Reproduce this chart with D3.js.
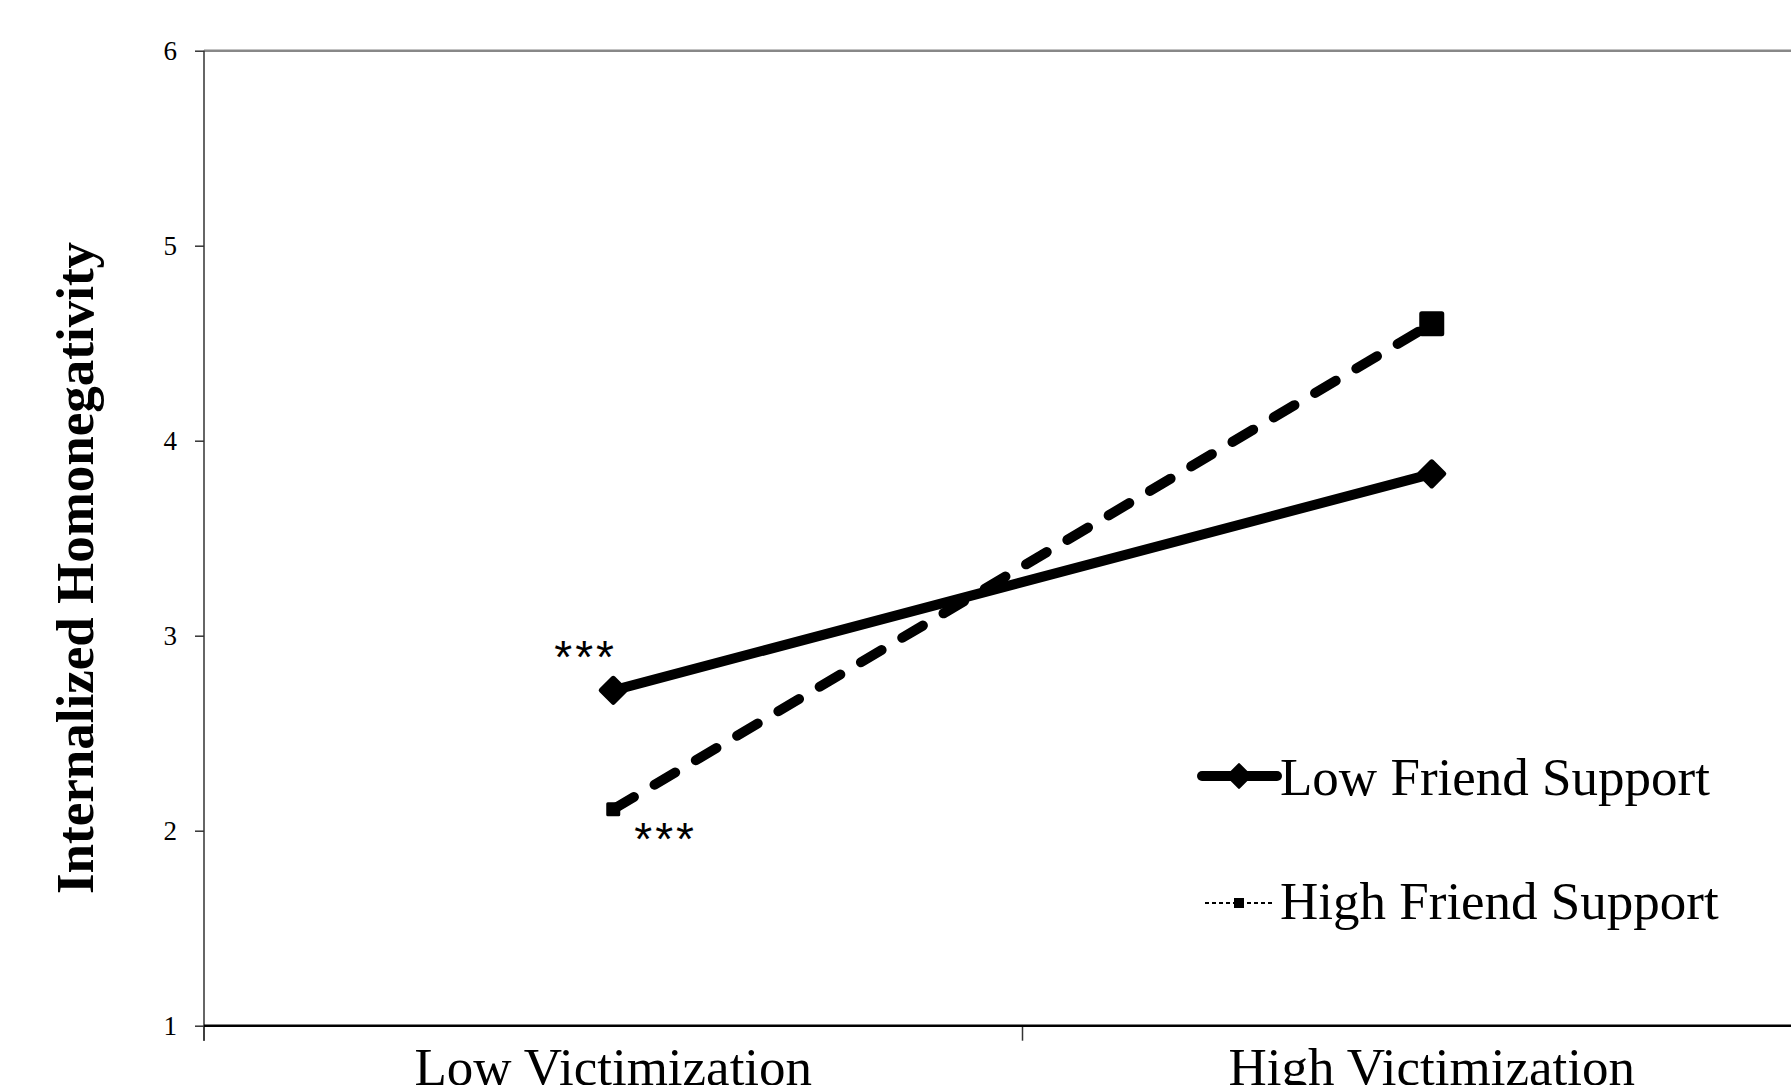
<!DOCTYPE html>
<html lang="en">

<head>
    <meta charset="UTF-8">
    <title>Internalized Homonegativity</title>
    <script src="https://cdnjs.cloudflare.com/ajax/libs/d3/7.8.5/d3.min.js"></script>
    <style>
        body {
            margin: 0;
            background-color: white;
        }

        svg {
            display: block;
            overflow: hidden;
            font-family: "Liberation Serif", "Times New Roman", serif;
        }

        .y-axis text {
            font-family: "Liberation Serif", "Times New Roman", serif;
            font-size: 27px;
            fill: #000;
        }

        .x-axis text {
            font-family: "Liberation Serif", "Times New Roman", serif;
            font-size: 53px;
            fill: #000;
        }

        .legend text {
            font-size: 53px;
        }

        .stars {
            font-family: "Liberation Sans", Arial, sans-serif;
            font-size: 46px;
            letter-spacing: 3px;
        }
    </style>
</head>

<body>
    <svg id="chart"></svg>

    <script>
        const categories = ["Low Victimization", "High Victimization"];
        const lowSupport = [2.72, 3.83];
        const highSupport = [2.11, 4.60];
        const seriesNames = ["Low Friend Support", "High Friend Support"];
        const yTicks = [1, 2, 3, 4, 5, 6];

        const width = 1791;
        const height = 1085;
        const plotLeft = 204;
        const plotTop = 50.7;
        const plotBottom = 1025.7;

        let svg = d3.select("#chart")
            .attr("width", width)
            .attr("height", height);

        let x = d3.scaleBand()
            .domain(categories)
            .range([plotLeft, plotLeft + 2 * 818.5]);

        let y = d3.scaleLinear()
            .domain([1, 6])
            .range([plotBottom, plotTop]);

        // plot frame top line
        svg.append("line")
            .attr("x1", plotLeft).attr("x2", width + 10)
            .attr("y1", y(6)).attr("y2", y(6))
            .style("stroke", "#888")
            .style("stroke-width", 2.5);

        // y axis
        let yAxis = svg.append("g")
            .attr("class", "y-axis")
            .attr("transform", "translate(" + plotLeft + ",0)")
            .call(d3.axisLeft(y).tickValues(yTicks).tickSize(9).tickPadding(18).tickFormat(d3.format("d")));
        yAxis.select(".domain").remove();
        yAxis.selectAll(".tick line").style("stroke", "#333").style("stroke-width", 1.5);
        yAxis.selectAll(".tick text").attr("dy", "0.34em");

        svg.append("line")
            .attr("x1", plotLeft).attr("x2", plotLeft)
            .attr("y1", y(6)).attr("y2", plotBottom + 15)
            .style("stroke", "#333")
            .style("stroke-width", 1.5);

        // x axis
        let xAxis = svg.append("g")
            .attr("class", "x-axis")
            .attr("transform", "translate(0," + plotBottom + ")")
            .call(d3.axisBottom(x).tickSize(0).tickPadding(22));
        xAxis.select(".domain").remove();
        xAxis.selectAll(".tick text").attr("dy", "0.71em");

        let bounds = categories.map(d => x(d)).concat([x.range()[1]]);
        svg.selectAll(".x-tick")
            .data(bounds)
            .join("line")
            .attr("class", "x-tick")
            .attr("x1", d => d).attr("x2", d => d)
            .attr("y1", plotBottom).attr("y2", plotBottom + 15)
            .style("stroke", "#333")
            .style("stroke-width", 1.5);

        svg.append("line")
            .attr("x1", plotLeft).attr("x2", width + 10)
            .attr("y1", plotBottom).attr("y2", plotBottom)
            .style("stroke", "#000")
            .style("stroke-width", 2.5);

        // y axis title
        svg.append("text")
            .attr("transform", "translate(93,568) rotate(-90)")
            .attr("text-anchor", "middle")
            .style("font-size", "53px")
            .style("font-weight", "bold")
            .text("Internalized Homonegativity");

        let cx = d => x(d) + x.bandwidth() / 2;
        let line = d3.line()
            .x((d, i) => cx(categories[i]))
            .y(d => y(d));

        // low friend support: solid with diamonds
        svg.append("path")
            .datum(lowSupport)
            .attr("d", line)
            .style("fill", "none")
            .style("stroke", "#000")
            .style("stroke-width", 10)
            .style("stroke-linecap", "round");

        svg.selectAll(".diamond")
            .data(lowSupport)
            .join("path")
            .attr("class", "diamond")
            .attr("d", d3.symbol(d3.symbolSquare, 289))
            .attr("transform", (d, i) => "translate(" + cx(categories[i]) + "," + y(d) + ") rotate(45)")
            .style("fill", "#000")
            .style("stroke", "#000")
            .style("stroke-width", 5)
            .style("stroke-linejoin", "round");

        // high friend support: dashed with squares
        svg.append("path")
            .datum(highSupport)
            .attr("d", line)
            .style("fill", "none")
            .style("stroke", "#000")
            .style("stroke-width", 10)
            .style("stroke-dasharray", "24,24")
            .style("stroke-linecap", "round");

        svg.selectAll(".square")
            .data(highSupport)
            .join("path")
            .attr("class", "square")
            .attr("d", (d, i) => d3.symbol(d3.symbolSquare, i === 0 ? 121 : 400)())
            .attr("transform", (d, i) => "translate(" + cx(categories[i]) + "," + y(d) + ")")
            .style("fill", "#000")
            .style("stroke", "#000")
            .style("stroke-width", (d, i) => i === 0 ? 3 : 5)
            .style("stroke-linejoin", "round");

        // significance marks
        svg.append("text")
            .attr("class", "stars")
            .attr("x", cx(categories[0]) - 59)
            .attr("y", y(lowSupport[0]) - 17)
            .text("***");

        svg.append("text")
            .attr("class", "stars")
            .attr("x", cx(categories[0]) + 21)
            .attr("y", y(highSupport[0]) + 46)
            .text("***");

        // legend
        let legend = svg.append("g").attr("class", "legend");

        legend.append("line")
            .attr("x1", 1202).attr("x2", 1277)
            .attr("y1", 776).attr("y2", 776)
            .style("stroke", "#000")
            .style("stroke-width", 10)
            .style("stroke-linecap", "round");
        legend.append("path")
            .attr("d", d3.symbol(d3.symbolSquare, 256))
            .attr("transform", "translate(1239,776) rotate(45)")
            .style("fill", "#000")
            .style("stroke", "#000")
            .style("stroke-width", 3)
            .style("stroke-linejoin", "round");

        legend.append("line")
            .attr("x1", 1205).attr("x2", 1274)
            .attr("y1", 903).attr("y2", 903)
            .style("stroke", "#000")
            .style("stroke-width", 2)
            .style("stroke-dasharray", "4,3");
        legend.append("path")
            .attr("d", d3.symbol(d3.symbolSquare, 100))
            .attr("transform", "translate(1239,903)")
            .style("fill", "#000");

        legend.selectAll("text")
            .data(seriesNames)
            .join("text")
            .attr("x", 1280)
            .attr("y", (d, i) => i === 0 ? 795 : 919)
            .text(d => d);
    </script>
</body>

</html>
